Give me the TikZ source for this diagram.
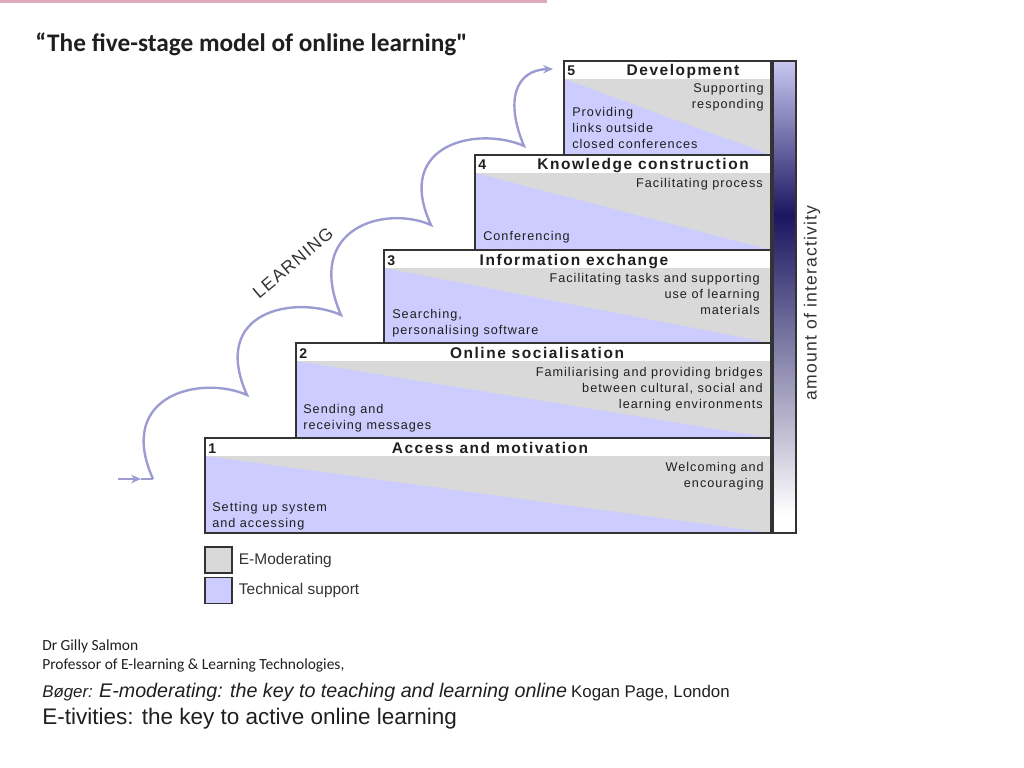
\documentclass[tikz,border=0pt]{standalone}
\usepackage{fontspec}
\setmainfont{Liberation Sans}
\newfontfamily\titlefont{Carlito}
\newfontfamily\boxfont[LetterSpace=8]{Liberation Sans}
\newfontfamily\headfont[LetterSpace=10]{Liberation Sans}
\newfontfamily\widefont[LetterSpace=7]{Liberation Sans}
\usetikzlibrary{arrows.meta,positioning}
\definecolor{emod}{HTML}{D9D9D9}
\definecolor{tech}{HTML}{CCCCFF}
\definecolor{frameline}{HTML}{333333}
\definecolor{learncol}{HTML}{9C9CD2}
\definecolor{navy}{HTML}{1C1660}
\definecolor{barlight}{HTML}{C8C8F2}
\definecolor{pinkrule}{HTML}{DDAABD}

\begin{document}
\begin{tikzpicture}[
    x=0.025cm, y=-0.025cm,
    node distance=0.15cm,
    every node/.style={inner sep=0pt, text=black!88},
    stage/.style={draw=frameline, line width=1.1pt},
    num/.style={font=\bfseries\fontsize{10}{11}\selectfont, anchor=base west},
    head/.style={font=\headfont\bfseries\fontsize{11}{12}\selectfont, anchor=base},
    rtext/.style={font=\boxfont\fontsize{9}{11.3}\selectfont, align=right, anchor=north east},
    ltext/.style={font=\boxfont\fontsize{9}{11.3}\selectfont, align=left, anchor=north west},
    learn/.style={draw=learncol, line width=1.7pt},
    key/.style={draw=frameline, line width=0.9pt, minimum width=0.675cm, minimum height=0.65cm},
    legend/.style={font=\fontsize{11}{13}\selectfont, text=black!80, anchor=west},
    cite/.style={anchor=base west, font=\titlefont\fontsize{11}{13}\selectfont}
]
\useasboundingbox (0,0) rectangle (1024,768);
\fill[pinkrule] (0,0) rectangle (547,3);

\node[anchor=base west, font=\titlefont\bfseries\fontsize{18}{22}\selectfont] (title) at (35,52) {“The five-stage model of online learning"};

% stage 5
\fill[emod] (564,79) rectangle (771,155);
\fill[tech] (564,79) -- (771,155) -- (564,155) -- cycle;
\draw[stage] (564,61) rectangle (771,155);
\node[num] (n5) at (567,76) {5};
\node[head] (t5) at (683,76) {Development};
\node[rtext] (r5) at (764,83) {Supporting\\responding};
\node[ltext] (l5) at (572,107) {Providing\\links outside\\closed conferences};

% stage 4
\fill[emod] (475,173) rectangle (771,250);
\fill[tech] (475,173) -- (771,250) -- (475,250) -- cycle;
\draw[stage] (475,155) rectangle (771,250);
\node[num] (n4) at (478,170) {4};
\node[head] (t4) at (643,170) {Knowledge construction};
\node[rtext] (r4) at (763,178) {Facilitating process};
\node[ltext] (l4) at (483,231) {Conferencing};

% stage 3
\fill[emod] (384,268) rectangle (771,343);
\fill[tech] (384,268) -- (771,343) -- (384,343) -- cycle;
\draw[stage] (384,250) rectangle (771,343);
\node[num] (n3) at (387,265) {3};
\node[head] (t3) at (574,265) {Information exchange};
\node[rtext] (r3) at (760,273) {Facilitating tasks and supporting\\use of learning\\materials};
\node[ltext] (l3) at (392,309) {Searching,\\personalising software};

% stage 2
\fill[emod] (296,361) rectangle (771,438);
\fill[tech] (296,361) -- (771,438) -- (296,438) -- cycle;
\draw[stage] (296,343) rectangle (771,438);
\node[num] (n2) at (299,358) {2};
\node[head] (t2) at (537,358) {Online socialisation};
\node[rtext] (r2) at (763,367) {Familiarising and providing bridges\\between cultural, social and\\learning environments};
\node[ltext] (l2) at (303,404) {Sending and\\receiving messages};

% stage 1
\fill[emod] (205,456) rectangle (771,533);
\fill[tech] (205,456) -- (771,533) -- (205,533) -- cycle;
\draw[stage] (205,438) rectangle (771,533);
\node[num] (n1) at (208,453) {1};
\node[head] (t1) at (490,453) {Access and motivation};
\node[rtext] (r1) at (764,462) {Welcoming and\\encouraging};
\node[ltext] (l1) at (212,502) {Setting up system\\and accessing};

% interactivity bar
\shade[top color=barlight, bottom color=navy] (773,61) rectangle (796,215);
\shade[top color=navy, bottom color=white] (773,215) rectangle (796,515);
\draw[stage] (773,61) rectangle (796,533);
\node[rotate=90, font=\widefont\fontsize{12.5}{14}\selectfont, text=black!80] (inter) at (812,303) {amount of interactivity};

% learning curve
\coordinate (entry) at (118,479);
\coordinate (mid) at (141,479);
\coordinate (c0) at (153,479);
\coordinate (c1) at (247,395);
\coordinate (c2) at (341,315);
\coordinate (c3) at (431,225);
\coordinate (c4) at (524,146);
\coordinate (goal) at (553,69);
\draw[learn, -{Stealth[length=7pt, width=6pt]}] (entry) -- (mid);
\draw[learn] (mid) -- (c0);
\draw[learn, -{Stealth[length=7pt, width=6pt]}] (c0)
    .. controls +(-38,-85) and +(-45,-20) .. (c1)
    .. controls +(-38,-85) and +(-45,-20) .. (c2)
    .. controls +(-38,-88) and +(-45,-20) .. (c3)
    .. controls +(-38,-82) and +(-45,-20) .. (c4)
    .. controls +(-19,-45) and +(-38,1) .. (goal);
\node[rotate=40, font=\widefont\fontsize{12.5}{14}\selectfont, text=black!80] (learning) at (293,263) {LEARNING};

% legend
\node[key, fill=emod] (k1) at (218.5,560) {};
\node[key, fill=tech] (k2) at (218.5,590.5) {};
\node[legend, right=of k1] (lg1) {E-Moderating};
\node[legend, right=of k2] (lg2) {Technical support};

% source
\node[cite] (author) at (42,650) {Dr Gilly Salmon};
\node[cite] (prof) at (42,669) {Professor of E-learning \& Learning Technologies,};
\node[anchor=base west] (book1) at (42,697) {{\fontsize{12}{14}\selectfont\itshape Bøger: }{\fontsize{14}{16}\selectfont\itshape E-moderating: the key to teaching and learning online} {\fontsize{12}{14}\selectfont Kogan Page, London}};
\node[anchor=base west, font=\fontsize{16}{19}\selectfont] (book2) at (42,724) {E-tivities: the key to active online learning};
\end{tikzpicture}
\end{document}
